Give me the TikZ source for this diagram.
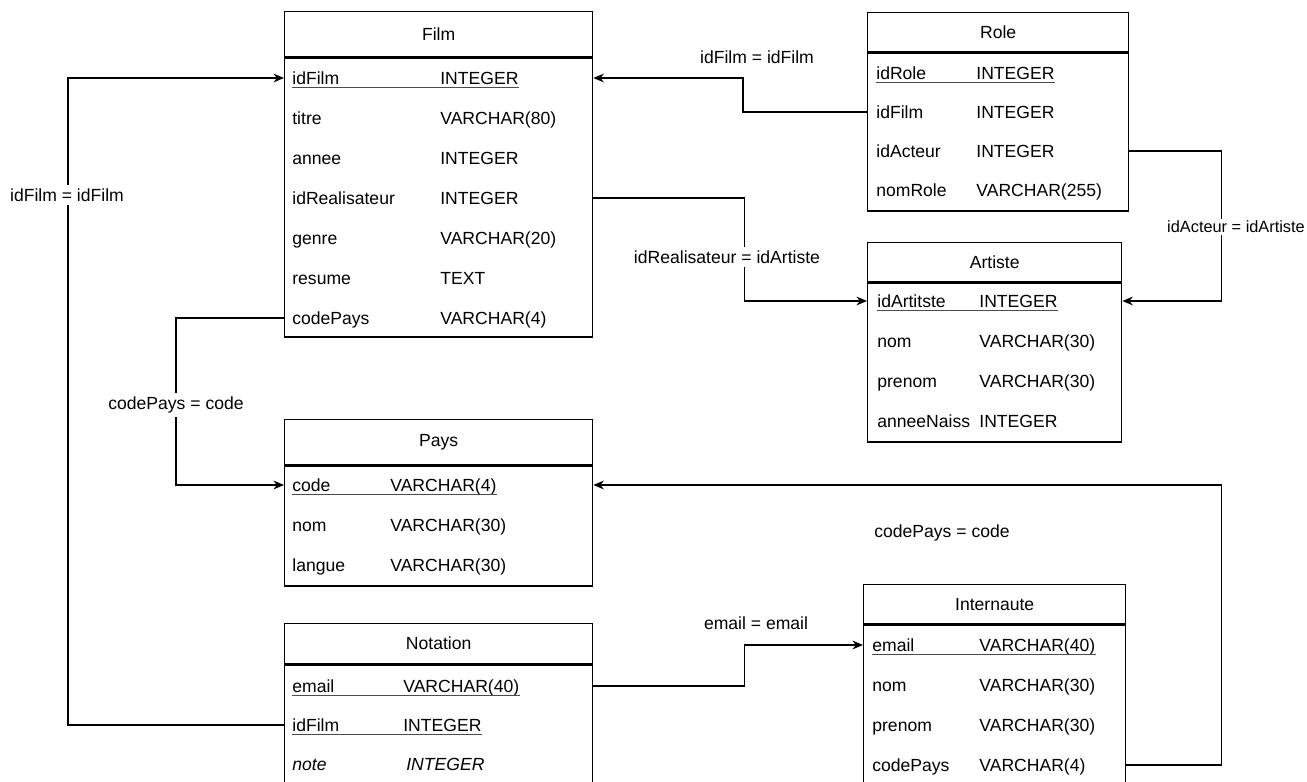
\documentclass[tikz,border=0pt]{standalone}
\usepackage{fontspec}
\setmainfont{Liberation Sans}
\usetikzlibrary{arrows.meta, positioning}

\begin{document}
\begin{tikzpicture}[x=0.02cm, y=-0.02cm, font=\fontsize{10}{12}\selectfont,
    tabhead/.style={draw, line width=0.8pt, anchor=north west, inner sep=0pt},
    tabbody/.style={draw, line width=0.8pt, inner sep=0pt},
    field/.style={anchor=west, inner sep=0pt, text height=7.2pt, text depth=0pt},
    pkline/.style={line width=0.6pt, black!70},
    fk/.style={line width=0.8pt, -{Stealth[length=6pt,width=5pt]}},
    rel/.style={fill=white, inner sep=2pt}]
    \clip (0,0) rectangle (1307,781);

    % Film
    \node[tabhead, minimum width=6.16cm, minimum height=0.9cm] (film) at (284,11) {Film};
    \node[tabbody, minimum width=6.16cm, minimum height=5.58cm, below=0pt of film] (film-body) {};
    \foreach \nm/\ty [count=\i from 0] in {idFilm/INTEGER, titre/VARCHAR(80), annee/INTEGER,
        idRealisateur/INTEGER, genre/VARCHAR(20), resume/TEXT, codePays/VARCHAR(4)} {
        \node[field] (film-\nm) at (292,78+40*\i) {\nm};
        \node[field] (film-\nm-t) at (440,78+40*\i) {\ty};
    }
    \draw[pkline] ([yshift=-1.5pt]film-idFilm.south west) -- ([yshift=-1.5pt]film-idFilm-t.south east);

    % Role
    \node[tabhead, minimum width=5.22cm, minimum height=0.78cm] (role) at (867,12) {Role};
    \node[tabbody, minimum width=5.22cm, minimum height=3.16cm, below=0pt of role] (role-body) {};
    \foreach \nm/\ty [count=\i from 0] in {idRole/INTEGER, idFilm/INTEGER, idActeur/INTEGER,
        nomRole/VARCHAR(255)} {
        \node[field] (role-\nm) at (876,73+39*\i) {\nm};
        \node[field] (role-\nm-t) at (976,73+39*\i) {\ty};
    }
    \draw[pkline] ([yshift=-1.5pt]role-idRole.south west) -- ([yshift=-1.5pt]role-idRole-t.south east);

    % Artiste
    \node[tabhead, minimum width=5.08cm, minimum height=0.78cm] (artiste) at (867,242) {Artiste};
    \node[tabbody, minimum width=5.08cm, minimum height=3.18cm, below=0pt of artiste] (artiste-body) {};
    \foreach \nm/\ty [count=\i from 0] in {idArtitste/INTEGER, nom/VARCHAR(30), prenom/VARCHAR(30),
        anneeNaiss/INTEGER} {
        \node[field] (artiste-\nm) at (877,301+40*\i) {\nm};
        \node[field] (artiste-\nm-t) at (979,301+40*\i) {\ty};
    }
    \draw[pkline] ([yshift=-1.5pt]artiste-idArtitste.south west) -- ([yshift=-1.5pt]artiste-idArtitste-t.south east);

    % Pays
    \node[tabhead, minimum width=6.16cm, minimum height=0.9cm] (pays) at (284,419) {Pays};
    \node[tabbody, minimum width=6.16cm, minimum height=2.4cm, below=0pt of pays] (pays-body) {};
    \foreach \nm/\ty [count=\i from 0] in {code/VARCHAR(4), nom/VARCHAR(30), langue/VARCHAR(30)} {
        \node[field] (pays-\nm) at (292,485+40*\i) {\nm};
        \node[field] (pays-\nm-t) at (390,485+40*\i) {\ty};
    }
    \draw[pkline] ([yshift=-1.5pt]pays-code.south west) -- ([yshift=-1.5pt]pays-code-t.south east);

    % Notation
    \node[tabhead, minimum width=6.16cm, minimum height=0.8cm] (notation) at (284,623) {Notation};
    \node[tabbody, minimum width=6.16cm, minimum height=2.8cm, below=0pt of notation] (notation-body) {};
    \foreach \nm/\ty [count=\i from 0] in {email/VARCHAR(40), idFilm/INTEGER} {
        \node[field] (notation-\nm) at (292,686+39*\i) {\nm};
        \node[field] (notation-\nm-t) at (403,686+39*\i) {\ty};
        \draw[pkline] ([yshift=-1.5pt]notation-\nm.south west) -- ([yshift=-1.5pt]notation-\nm-t.south east);
    }
    \node[field] (notation-note) at (292,764) {\itshape note};
    \node[field] (notation-note-t) at (406,764) {\itshape INTEGER};

    % Internaute
    \node[tabhead, minimum width=5.24cm, minimum height=0.78cm] (internaute) at (863,584) {Internaute};
    \node[tabbody, minimum width=5.24cm, minimum height=3.6cm, below=0pt of internaute] (internaute-body) {};
    \foreach \nm/\ty [count=\i from 0] in {email/VARCHAR(40), nom/VARCHAR(30), prenom/VARCHAR(30),
        codePays/VARCHAR(4)} {
        \node[field] (internaute-\nm) at (872,645+40*\i) {\nm};
        \node[field] (internaute-\nm-t) at (979,645+40*\i) {\ty};
    }
    \draw[pkline] ([yshift=-1.5pt]internaute-email.south west) -- ([yshift=-1.5pt]internaute-email-t.south east);

    % Foreign keys
    \draw[fk] (role.west |- role-idFilm) -- ++(-124,0) |- (film.east |- film-idFilm);
    \draw[fk] (film.east |- film-idRealisateur) -- ++(151,0) |- (artiste.west |- artiste-idArtitste);
    \draw[fk] (role.east |- role-idActeur) -- ++(92,0) |- (artiste.east |- artiste-idArtitste);
    \draw[fk] (notation.west |- notation-idFilm) -- ++(-216,0) |- (film.west |- film-idFilm);
    \draw[fk] (film.west |- film-codePays) -- ++(-108,0) |- (pays.west |- pays-code);
    \draw[fk] (internaute.east |- internaute-codePays) -- ++(95,0) |- (pays.east |- pays-code);
    \draw[fk] (notation.east |- notation-email) -- ++(151,0) |- (internaute.west |- internaute-email);

    % Join labels
    \node[rel] (lbl-rolefilm) at (757,57) {idFilm = idFilm};
    \node[rel] (lbl-realisateur) at (727,257) {idRealisateur = idArtiste};
    \node[rel, inner sep=1pt, font=\fontsize{9.3}{11}\selectfont] (lbl-acteur) at (1236,227) {idActeur = idArtiste};
    \node[rel] (lbl-notationfilm) at (67,195) {idFilm = idFilm};
    \node[rel] (lbl-filmpays) at (176,405) {codePays = code};
    \node[rel] (lbl-internautepays) at (942,533) {codePays = code};
    \node[rel] (lbl-email) at (756,623) {email = email};
\end{tikzpicture}
\end{document}
